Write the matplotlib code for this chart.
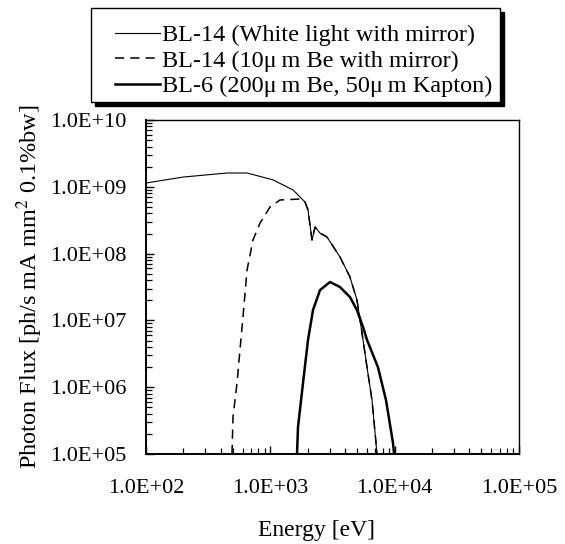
import numpy as np
import matplotlib
matplotlib.use('Agg')
import matplotlib.pyplot as plt
from matplotlib.patches import Rectangle
from matplotlib.ticker import LogLocator, FixedLocator, FuncFormatter, NullFormatter

plt.rcParams['font.family'] = ['Liberation Serif', 'DejaVu Serif']
plt.rcParams['mathtext.fontset'] = 'stix'

# BL-14 white light with mirror (energy eV, flux)
e_white = [100, 199, 449, 650, 1052, 1524, 1902, 2011, 2165, 2290, 2512, 2858,
           3637, 4375, 4980, 5466, 5997, 6580, 7087, 7210]
f_white = [1.14e9, 1.40e9, 1.61e9, 1.61e9, 1.27e9, 8.96e8, 5.92e8, 4.5e8, 1.6e8,
           2.5e8, 2.03e8, 1.77e8, 8.9e7, 4.47e7, 2.02e7, 6.5e6, 2.0e6, 6.4e5,
           1.46e5, 1.0e5]

# BL-14 10 um Be with mirror (below 1.9 keV; above it follows the white curve)
e_be = [492, 501, 540, 570, 603, 650, 726, 827, 995, 1197, 1734, 1902, 2011,
        2165, 2290, 2512, 2858, 3637, 4375, 4980, 5466, 5997, 6580, 7087, 7210]
f_be = [1.0e5, 3.58e5, 1.16e6, 3.6e6, 1.12e7, 5.68e7, 1.6e8, 2.87e8, 4.99e8,
        6.35e8, 6.56e8, 5.92e8, 4.5e8, 1.6e8, 2.5e8, 2.03e8, 1.77e8, 8.9e7,
        4.47e7, 2.02e7, 6.5e6, 2.0e6, 6.4e5, 1.46e5, 1.0e5]

# BL-6 200 um Be, 50 um Kapton
e_bl6 = [1640, 1671, 1834, 2011, 2206, 2512, 3022, 3637, 4375, 4980, 5572,
         6000, 7345, 8530, 9710, 9900]
f_bl6 = [1.0e5, 2.54e5, 1.16e6, 5.1e6, 1.43e7, 2.85e7, 3.76e7, 3.16e7, 2.24e7,
         1.43e7, 7.96e6, 5.1e6, 2.0e6, 6.4e5, 1.46e5, 1.0e5]

labels = ['BL-14 (White light with mirror)',
          'BL-14 (10\u03bc\u2009m Be with mirror)',
          'BL-6 (200\u03bc\u2009m Be, 50\u03bc\u2009m Kapton)']

W, H = 565, 544
fig = plt.figure(figsize=(W / 100, H / 100), dpi=100)
ax = fig.add_axes([0.2584, 0.1654, 0.660, 0.614])

l1, = ax.plot(e_white, f_white, color='black', linewidth=0.8)
l2, = ax.plot(e_be, f_be, color='black', linewidth=1.1, linestyle=(0, (6, 4)))
l3, = ax.plot(e_bl6, f_bl6, color='black', linewidth=1.8)

ax.set_xscale('log')
ax.set_yscale('log')
ax.set_xlim(1e2, 1e5)
ax.set_ylim(1e5, 1e10)

fmt = FuncFormatter(lambda v, p: '%.1fE+%02d' % (v / 10 ** np.floor(np.log10(v) + 1e-9),
                                               int(np.floor(np.log10(v) + 1e-9))))
ax.xaxis.set_major_locator(FixedLocator([1e2, 1e3, 1e4, 1e5]))
ax.yaxis.set_major_locator(FixedLocator([1e5, 1e6, 1e7, 1e8, 1e9, 1e10]))
ax.xaxis.set_major_formatter(fmt)
ax.yaxis.set_major_formatter(fmt)
ax.xaxis.set_minor_locator(LogLocator(base=10, subs=np.arange(2, 10), numticks=20))
ax.yaxis.set_minor_locator(LogLocator(base=10, subs=np.arange(2, 10), numticks=20))
ax.xaxis.set_minor_formatter(NullFormatter())
ax.yaxis.set_minor_formatter(NullFormatter())

ax.tick_params(which='both', direction='in', top=False, right=False, labelsize=16)
ax.tick_params(which='major', length=6, width=1.0)
ax.tick_params(which='minor', length=4, width=0.9)
ax.tick_params(axis='x', pad=18)
ax.tick_params(axis='y', pad=14)
for s in ['left', 'bottom']:
    ax.spines[s].set_linewidth(1.4)
for s in ['top', 'right']:
    ax.spines[s].set_linewidth(1.0)

ax.set_xlabel('Energy [eV]', fontsize=17, labelpad=16, x=0.458)
ax.set_ylabel('Photon Flux [ph/s mA mm$^2$ 0.1%bw]', fontsize=17.5, labelpad=4)

# legend frame with a hard black shadow
bx0, bx1, by0, by1 = 91, 500, 8, 102
fig.patches.append(Rectangle(((bx0 + 4) / W, 1 - (by1 + 4) / H), (bx1 - bx0) / W,
                             (by1 - by0) / H, transform=fig.transFigure,
                             facecolor='black', edgecolor='black', zorder=1))
fig.patches.append(Rectangle((bx0 / W, 1 - by1 / H), (bx1 - bx0) / W,
                             (by1 - by0) / H, transform=fig.transFigure,
                             facecolor='white', edgecolor='black', linewidth=1.0,
                             zorder=2))

leg = fig.legend([l1, l2, l3], labels, loc='upper left',
                 bbox_to_anchor=(115 / W, 1 - 24 / H), fontsize=17.5, frameon=False,
                 handlelength=1.85, handletextpad=0.1, labelspacing=0.15,
                 borderpad=0, borderaxespad=0)
leg.set_zorder(3)

fig.savefig('out.png', dpi=100)
